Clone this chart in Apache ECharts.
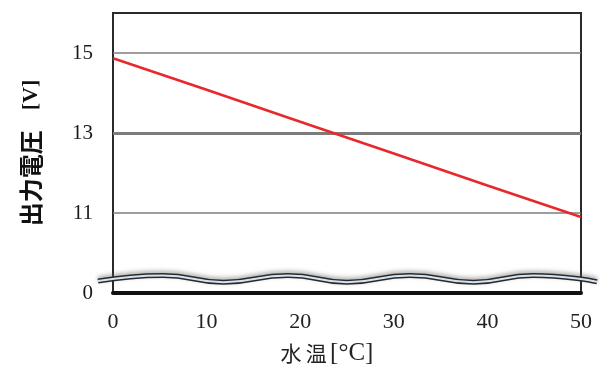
<!DOCTYPE html>
<html>
<head>
<meta charset="utf-8">
<script src="https://cdn.jsdelivr.net/npm/echarts@6/dist/echarts.min.js"></script>
<style>html,body{margin:0;padding:0;background:#fff}#c{width:605px;height:365px}</style>
</head>
<body>
<div id="c"></div>
<script>
// Data
var waterTemp = [0, 10, 20, 30, 40, 50];
var outputVoltage = [14.87, 14.08, 13.28, 12.49, 11.69, 10.9];
var xTicks = [0, 10, 20, 30, 40, 50];
var yTickValues = [11, 13, 15];
var yBreakValue = 9;          // axis bottom, shown as "0" (broken axis)
var yBreakLabel = '0';
var gridWidths = [1.5, 3, 1.5];
// break-mark wave (decoration of broken axis), in the same temperature/voltage units
var waveX = [-1.6, 5.3, 11.8, 18.7, 25, 31.7, 38.5, 44.9, 51.7];
var waveY = [9.3, 9.44, 9.27, 9.44, 9.27, 9.44, 9.27, 9.44, 9.28];

var chart = echarts.init(document.getElementById('c'));
var serif = '"Liberation Serif","DejaVu Serif",serif';
var cjk = '"Noto Sans CJK JP","Noto Sans CJK SC",sans-serif';

function zip(a, b) { return a.map(function (v, i) { return [v, b[i]]; }); }

chart.setOption({
  animation: false,
  grid: [
    { left: 113, right: 24, top: 13, bottom: 72, show: true, borderColor: '#2a2a2a', borderWidth: 2, backgroundColor: '#fff', outerBoundsMode: 'none', containLabel: false },
    // wider overlay grid with the same scale (9.36 px per °C) so the break mark can overhang the frame
    { left: 98, right: 8, top: 13, bottom: 72, show: false, outerBoundsMode: 'none', containLabel: false }
  ],
  xAxis: [{
    type: 'value', min: 0, max: 50, interval: 10, gridIndex: 0,
    axisLine: { show: true, lineStyle: { color: '#111', width: 4 } },
    axisTick: { show: false },
    splitLine: { show: false },
    axisLabel: { margin: 18, fontFamily: serif, fontSize: 22, color: '#222', formatter: function (v) { return xTicks.indexOf(v) >= 0 ? String(v) : ''; } },
    name: '{a|水\u2009温} {b|[°C]}',
    nameLocation: 'middle', nameGap: 48,
    nameTextStyle: {
      padding: [0, 40, 0, 0],
      rich: {
        a: { fontFamily: cjk, fontSize: 21, color: '#222' },
        b: { fontFamily: serif, fontSize: 25, color: '#222' }
      }
    }
  }, {
    type: 'value', gridIndex: 1, min: waveX[0], max: waveX[waveX.length - 1], show: false
  }],
  yAxis: [{
    type: 'value', min: yBreakValue, max: 16, interval: 2, gridIndex: 0,
    axisLine: { show: false },
    axisTick: { show: false },
    splitLine: { show: false },
    axisLabel: {
      margin: 20, fontFamily: serif, fontSize: 21, color: '#1a1a1a',
      formatter: function (v) {
        if (v === yBreakValue) return yBreakLabel;
        return yTickValues.indexOf(v) >= 0 ? String(v) : '';
      }
    },
    name: '{a|出力電圧}{s|\u3000}{b|[V]}',
    nameLocation: 'middle', nameGap: 70, nameRotate: 90,
    nameTextStyle: {
      rich: {
        a: { fontFamily: cjk, fontSize: 24, fontWeight: 'bold', color: '#111' },
        s: { fontFamily: cjk, fontSize: 20 },
        b: { fontFamily: serif, fontSize: 22, fontWeight: 'bold', color: '#111' }
      }
    }
  }, {
    type: 'value', gridIndex: 1, min: yBreakValue, max: 16, show: false, splitLine: { show: false }
  }],
  series: [
    {
      type: 'line', xAxisIndex: 1, yAxisIndex: 1, data: zip(waveX, waveY), smooth: 0.5, symbol: 'none', clip: false, silent: true,
      lineStyle: { color: '#2a2a2a', width: 5, shadowColor: 'rgba(90,90,90,0.5)', shadowBlur: 4, shadowOffsetY: -2 }, z: 3
    },
    {
      type: 'line', xAxisIndex: 1, yAxisIndex: 1, data: zip(waveX, waveY), smooth: 0.5, symbol: 'none', clip: false, silent: true,
      lineStyle: { color: '#d4e4f4', width: 2 }, z: 4
    },
    {
      type: 'line', data: zip(waterTemp, outputVoltage), symbol: 'none',
      lineStyle: { color: '#e8282c', width: 2.6 }, z: 5,
      markLine: {
        silent: true, symbol: 'none', label: { show: false },
        data: yTickValues.map(function (v, i) {
          return { yAxis: v, lineStyle: { color: '#7c7c7c', width: gridWidths[i], type: 'solid' } };
        })
      }
    }
  ]
});
</script>
</body>
</html>
